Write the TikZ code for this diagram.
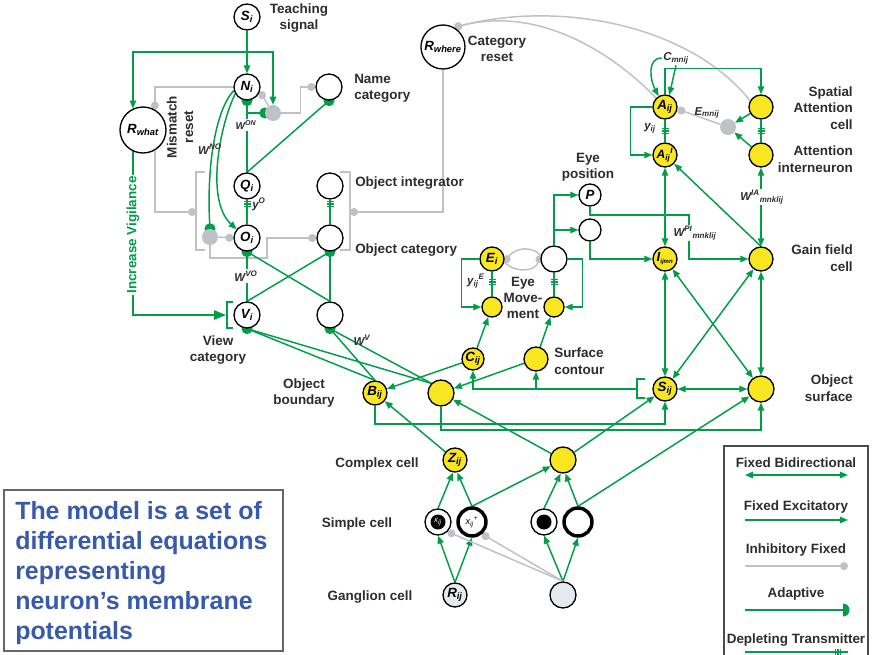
\documentclass[tikz,border=0pt]{standalone}
\usepackage{fontspec}
\setmainfont{Liberation Sans}
\usetikzlibrary{arrows.meta}
\definecolor{cg}{RGB}{0,158,72}
\definecolor{cgr}{RGB}{190,193,198}
\definecolor{cy}{RGB}{248,230,32}
\definecolor{cgl}{RGB}{228,234,240}
\definecolor{ctx}{RGB}{45,45,45}
\definecolor{cbl}{RGB}{55,90,170}
\pgfdeclarelayer{bg}
\pgfdeclarelayer{edges}
\pgfsetlayers{bg,edges,main}
\newcommand\lab{\fontsize{10.1}{12.3}\selectfont\bfseries}
\newcommand\cellf{\fontsize{10}{11}\selectfont\bfseries\itshape}
\newcommand\wf{\fontsize{8.6}{10}\selectfont\bfseries\itshape}
% adaptive synapse: green disc half hidden under the target cell
\newcommand\adapt[1]{\fill[cg] (#1) circle (5.5);}
\tikzset{
  cell/.style={circle, draw=black, line width=1pt, fill=white, minimum size=#1, inner sep=0pt, font=\cellf, text=black},
  yel/.style={fill=cy},
  gang/.style={fill=cgl},
  thickring/.style={line width=2.6pt},
  gdisk/.style={circle, fill=cgr, minimum size=12pt, inner sep=0pt},
  lbl/.style={font=\lab, text=ctx, align=center, inner sep=0pt},
  wl/.style={font=\wf, text=ctx, inner sep=1pt},
  gl/.style={draw=cg, line width=1.1pt},
  ga/.style={gl, -{Triangle[length=6pt,width=4.8pt]}},
  gb/.style={gl, {Triangle[length=6pt,width=4.8pt]}-{Triangle[length=6pt,width=4.8pt]}},
  gg/.style={draw=cgr, line width=1.1pt},
  gi/.style={gg, -{Circle[length=6pt]}},
  tm/.pic={\draw[cg, line width=0.8pt] (-3.5,-2.6) -- (3.5,-2.6) (-3.5,0) -- (3.5,0) (-3.5,2.6) -- (3.5,2.6);}
}
\begin{document}
\begin{tikzpicture}[x=0.75pt,y=-0.75pt]
\useasboundingbox (0,0) rectangle (872,654);
\begin{pgfonlayer}{bg}
  \fill[white] (0,0) rectangle (872,654);
\end{pgfonlayer}

% ---------- What stream ----------
\node[cell=19.5pt] (Si) at (247,17) {S\textsubscript{i}};
\node[cell=19.5pt] (Ni) at (247,87) {N\textsubscript{i}};
\node[cell=19.5pt] (Nc) at (329,87) {};
\node[cell=34.5pt] (Rwhat) at (143,130) {R\textsubscript{what}};
\node[cell=19.5pt] (Qi) at (247,186) {Q\textsubscript{i}};
\node[cell=19.5pt] (Oi) at (247,238) {O\textsubscript{i}};
\node[cell=19.5pt] (Vi) at (247,315) {V\textsubscript{i}};
\node[cell=19.5pt] (Oint) at (330,186) {};
\node[cell=19.5pt] (Ocat) at (330,238) {};
\node[cell=19.5pt] (Vb) at (330,315) {};
\node[gdisk] (G1) at (273,113) {};
\node[gdisk] (G2) at (210,237) {};

% ---------- Where stream ----------
\node[cell=33pt] (Rwhere) at (443,47) {R\textsubscript{where}};
\node[cell=18pt, yel] (Aij) at (665,107) {A\textsubscript{ij}};
\node[cell=18pt, yel, font=\fontsize{9}{10}\selectfont\bfseries\itshape] (AIij) at (665,155) {A\textsubscript{ij}\textsuperscript{I}};
\node[cell=18pt, yel] (Sa) at (761,107) {};
\node[cell=18pt, yel] (Ai) at (761,155) {};
\node[gdisk] (G3) at (728,127) {};
\node[cell=16.5pt] (P) at (590,195) {P};
\node[cell=16.5pt] (Pb) at (590,230) {};
\node[cell=18pt, yel] (Iij) at (665,259) {I\textsubscript{\fontsize{4.5}{5}\selectfont ijmn}};
\node[cell=18pt, yel] (Gf) at (761,259) {};
\node[cell=18pt, yel] (Sij) at (665,389) {S\textsubscript{ij}};
\node[cell=19.5pt, yel] (Os) at (761,389) {};
\node[cell=18pt, yel] (Ei) at (492,259) {E\textsubscript{i}};
\node[cell=19.5pt] (Em) at (554,259) {};
\node[cell=15pt, yel] (Ey1) at (492,307) {};
\node[cell=15pt, yel] (Ey2) at (554,307) {};
\node[cell=16.5pt, yel] (Cij) at (473,359) {C\textsubscript{ij}};
\node[cell=18pt, yel] (Sc) at (536,359) {};
\node[cell=18pt, yel] (Bij) at (375,393) {B\textsubscript{ij}};
\node[cell=19.5pt, yel] (Bu) at (441,393) {};
\node[cell=18pt, yel] (Zij) at (455,460) {Z\textsubscript{ij}};
\node[cell=19.5pt, yel] (Cx) at (563,460) {};
\node[cell=19.5pt] (x1) at (438,522) {};
\node[cell=21pt, thickring, font=\fontsize{7}{8}\selectfont\itshape] (x2) at (472,522) {x\textsubscript{ij}\textsuperscript{+}};
\node[cell=19.5pt] (x3) at (544,522) {};
\node[cell=21pt, thickring] (x4) at (578,522) {};
\node[cell=18pt, gang] (Rij) at (455,595) {R\textsubscript{ij}};
\node[cell=19.5pt, gang] (Rg) at (563,595) {};
\fill[black] (x1) circle (7.5);
\node[font=\fontsize{6}{7}\selectfont\itshape, text=white, inner sep=0pt] at (x1) {x\textsubscript{ij}};
\fill[black] (x3) circle (7.5);

% ---------- labels ----------
\node[lbl] at (299,18) {Teaching\\signal};
\node[lbl, anchor=west, align=left] at (354,88) {Name\\category};
\node[lbl, rotate=90] at (180,127) {Mismatch\\reset};
\node[lbl, anchor=west] at (355,183) {Object integrator};
\node[lbl, anchor=west] at (355,250) {Object category};
\node[lbl] at (218,350) {View\\category};
\node[lbl] at (497,49) {Category\\reset};
\node[lbl, anchor=east, align=right] at (853,108) {Spatial\\Attention\\cell};
\node[lbl, anchor=east, align=right] at (853,159) {Attention\\interneuron};
\node[lbl, anchor=east, align=right] at (853,258) {Gain field\\cell};
\node[lbl, anchor=east, align=right] at (853,388) {Object\\surface};
\node[lbl] at (588,167) {Eye\\position};
\node[lbl] at (523,298) {Eye\\Move-\\ment};
\node[lbl, anchor=west, align=left] at (554,361) {Surface\\contour};
\node[lbl] at (304,393) {Object\\boundary};
\node[lbl] at (377,464) {Complex cell};
\node[lbl] at (357,524) {Simple cell};
\node[lbl] at (370,597) {Ganglion cell};

\node[wl] at (210,149) {W\textsuperscript{NO}};
\node[wl, fill=white, font=\fontsize{7.5}{8}\selectfont\bfseries\itshape] at (246,125) {W\textsuperscript{ON}};
\node[wl] at (259,204) {y\textsuperscript{O}};
\node[wl, fill=white] at (246,276) {W\textsuperscript{VO}};
\node[wl] at (362,340) {W\textsuperscript{V}};
\node[wl] (Cl) at (676,58) {C\textsubscript{mnij}};
\node[wl] at (707,113) {E\textsubscript{mnij}};
\node[wl] at (650,128) {y\textsubscript{ij}};
\node[wl, fill=white] (Wia) at (762,197) {W\textsuperscript{IA}\textsubscript{mnklij}};
\node[wl, fill=white] at (695,233) {W\textsuperscript{PI}\textsubscript{mnklij}};
\node[wl] at (476,281) {y\textsubscript{ij}\textsuperscript{E}};

% ---------- connections ----------
\begin{pgfonlayer}{edges}
  % teaching signal
  \coordinate (tj) at (247,52);
  \draw[ga] (Si) -- (Ni);
  \draw[ga] (tj) -| (Rwhat.115);
  \draw[ga] (tj) -| (G1.north);
  % mismatch reset
  \draw[gi] (Ni.west) -| (Rwhat.60);
  \draw[gi] (G1) -- (Ni.-20);
  \draw[gi] (G1.east) -- ++(19,0) |- (Nc.west);
  \coordinate (qj) at (247,113);
  \draw[gl] (Qi) -- (Ni);
  \draw[gl] (qj) -- (G1.west);
  \adapt{Ni.south}
  \adapt{G1.west}
  \draw[gl] (Qi.north) -- (Nc.south);
  \adapt{Nc.south}
  % W^NO
  \draw[gl] (Ni.195) .. controls (215,110) and (206,170) .. (G2.north);
  \adapt{G2.north}
  \draw[ga] (Ni.210) .. controls (220,125) and (205,200) .. (Oi.140);
  \draw[gi] (G2.east) -- (Oi.west);
  \draw[gi] (G2.south) |- (267,258) |- (Ocat.west);
  % category reset brackets
  \draw[gg] (205,172) -| (196,250) -- (205,250);
  \coordinate (bl) at (196,212);
  \draw[gi] (Rwhat.300) |- (bl);
  \draw[gg] (340,172) -| (350,250) -- (340,250);
  \coordinate (br) at (350,212);
  \draw[gi] (Rwhere.south) |- (br);
  % habituative transmitters
  \draw[gl] (Qi) -- (Oi);
  \pic at (247,204) {tm};
  \draw[gl] (Oint) -- (Ocat);
  \pic at (330,204) {tm};
  % view to object category
  \draw[gl] (Vi) -- (Oi);
  \draw[gl] (Vi.north) -- (Ocat.south);
  \draw[gl] (Vb.north) -- (Oi.south);
  \draw[gl] (Vb) -- (Ocat);
  \adapt{Oi.south}
  \adapt{Ocat.south}
  % vigilance
  \coordinate (vb) at (226,315);
  \draw[gl, -{Triangle[length=9pt,width=7pt]}] (Rwhat.245) |- (vb);
  \draw[gl] (233,302) -| (227,328) -- (233,328);
  % boundaries to view categories
  \draw[gl] (Vi.south) -- (Bij.north);
  \draw[gl] (Vi.south) -- (Bu.north west);
  \draw[gl] (Vb.south) -- (Bij.north);
  \draw[gl] (Vb.south) -- (Bu.north west);
  \adapt{Vi.south}
  \adapt{Vb.south}

  % where stream reset
  \draw[gi] (Sa.150) .. controls (690,25) and (560,0) .. (Rwhere.60);
  \draw[gi] (Aij.135) .. controls (615,55) and (540,5) .. (Rwhere.60);
  % spatial attention
  \draw[ga] (Aij.north) -- ++(0,-26) -| (Sa.north);
  \draw[ga] (Cl.west) .. controls (647,58) and (650,80) .. (Aij.120);
  \draw[ga] (Cl.south) -- (Aij.70);
  \draw[ga] (Aij.west) -- ++(-22,0) |- (AIij.west);
  \draw[gl] (Aij) -- (AIij);
  \pic at (665,131) {tm};
  \draw[gl] (Sa) -- (Ai);
  \pic at (761,131) {tm};
  \draw[gi] (G3) -- (Aij.-10);
  \draw[ga] (Sa) -- (G3);
  \draw[ga] (Ai) -- (G3);
  \draw[gb] (AIij) -- (Iij);
  \draw[ga] (Gf.north) -- (AIij);
  \draw[gb] (Ai) -- (Gf);
  % gain fields
  \draw[ga] (P.south) |- (689,215) |- (Gf.west);
  \draw[ga] (Pb.south) |- (Iij.west);
  \draw[gb] (Iij) -- (Sij);
  \draw[gb] (Gf) -- (Os);
  \draw[gb] (Iij) -- (Os);
  \draw[gb] (Gf) -- (Sij);
  \draw[gb] (Sij) -- (Os);
  % eye movements
  \coordinate (ej) at (554,230);
  \draw[ga] (Em.north) |- (P.west);
  \draw[ga] (ej) -- (Pb.west);
  \draw[gl] (Ei) -- (Ey1);
  \pic at (492,282) {tm};
  \draw[gl] (Em) -- (Ey2);
  \pic at (554,282) {tm};
  \draw[ga] (Ei.west) -- ++(-18,0) |- (Ey1.west);
  \draw[ga] (Em.east) -- ++(15,0) |- (Ey2.east);
  \draw[gi] (Em.165) .. controls (532,246) and (516,247) .. (Ei.-15);
  \draw[gi] (Ei.-15) .. controls (517,274) and (535,271) .. (Em.165);
  \draw[ga] (Cij) -- (Ey1);
  \draw[ga] (Sc) -- (Ey2);
  % surface contours and boundaries
  \draw[ga] (Cij) -- (Bij);
  \draw[ga] (Sc) -- (Bu);
  \draw[gl] (645,379) -| (637,398) -- (645,398);
  \coordinate (sb) at (637,389);
  \coordinate (sj) at (536,389);
  \draw[ga] (sb) -| (Cij.south);
  \draw[ga] (sj) -- (Sc.south);
  \draw[ga] (Bij.south) -- (375,424) -| (Sij.south);
  \draw[ga] (Bu.south) -- (441,430) -| (Os.south);
  % complex and simple cells
  \draw[ga] (Zij) -- (Bij);
  \draw[ga] (Cx) -- (Bu);
  \draw[ga] (Cx) -- (Sij);
  \draw[ga] (x1.north) -- (Zij.-100);
  \draw[ga] (x2.north) -- (Zij.-80);
  \draw[ga] (x3.north) -- (Cx.-100);
  \draw[ga] (x4.north) -- (Cx.-80);
  \draw[ga] (x2.north) -- (Cx);
  \draw[ga] (x4.north) -- (Os);
  \draw[ga] (Rij.north) -- (x1.south);
  \draw[ga] (Rij.north) -- (x2.south);
  \draw[ga] (Rg.north) -- (x3.south);
  \draw[ga] (Rg.north) -- (x4.south);
  \draw[gi] (Rg.north) -- (x1.-45);
  \draw[gi] (Rg.north) -- (x2.-50);
\end{pgfonlayer}

% vigilance label sits over its line
\node[lbl, rotate=90, text=cg, fill=white, inner sep=1pt] at (133,235) {Increase Vigilance};

% ---------- legend ----------
\draw[black!70, line width=0.8pt] (724,656) |- (868,446) -- (868,656);
\node[lbl] at (796,463) {Fixed Bidirectional};
\draw[gb] (745,475) -- (848,475);
\node[lbl] at (796,507) {Fixed Excitatory};
\draw[ga] (745,520) -- (848,520);
\node[lbl] at (796,550) {Inhibitory Fixed};
\draw[gi] (745,566) -- (848,566);
\node[lbl] at (796,594) {Adaptive};
\draw[gl] (745,610) -- (843,610);
\begin{scope}
  \clip (843,600) rectangle (852,620);
  \fill[cg] (843,610) circle (6.5);
\end{scope}
\node[lbl] at (796,640) {Depleting Transmitter};
\draw[gl] (745,652) -- (848,652);
\pic[rotate=90] at (838,652) {tm};

% ---------- note ----------
\draw[black!60, line width=0.8pt] (4,490) rectangle (283,651);
\node[anchor=north west, align=left, inner sep=0pt, text=cbl,
      font=\fontsize{18.7}{22.6}\selectfont\bfseries] at (15,501)
  {The model is a set of\\differential equations\\representing\\neuron’s membrane\\potentials};
\end{tikzpicture}
\end{document}
